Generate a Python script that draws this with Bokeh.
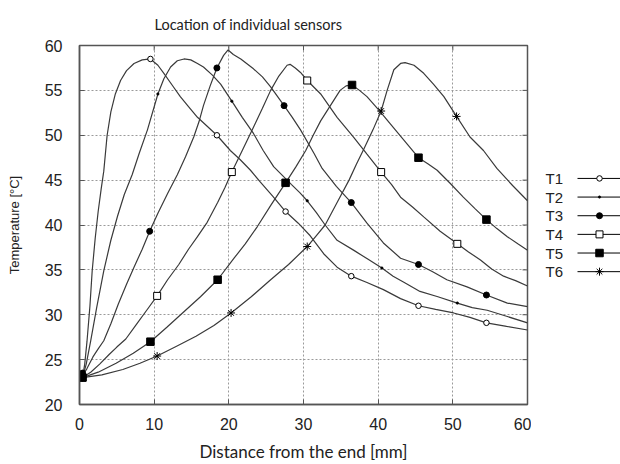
import numpy as np
from bokeh.plotting import figure
from bokeh.models import Range1d, FixedTicker
from bokeh.layouts import row
from bokeh.core.properties import value
from bokeh.embed import file_html
from bokeh.resources import INLINE

# ---------------- data ----------------
series_names = ["T1", "T2", "T3", "T4", "T5", "T6"]

t1_x = [0.4, 0.7, 1.0, 1.4, 1.7, 2.1, 2.5, 2.9, 3.25, 3.7, 4.2, 4.8, 5.5, 6.3, 7.3, 8.4, 9.5, 10.5, 11.3,
        12.4, 13.5, 14.6, 15.8, 17.1, 18.4, 20.2, 21.5, 22.9, 24.2, 25.9, 27.6, 29.3, 30.9, 32.7, 34.5, 36.4,
        38.5, 40.7, 43.0, 45.4, 47.7, 50.1, 52.3, 54.5, 57.2, 60.0]
t1_y = [23.0, 24.5, 27.0, 31.0, 34.9, 38.5, 41.5, 44.0, 46.0, 50.0, 52.6, 54.6, 56.1, 57.2, 58.0, 58.4, 58.5,
        57.8, 56.9, 55.6, 54.3, 53.2, 52.0, 51.0, 50.0, 48.3, 47.3, 46.1, 44.8, 43.2, 41.5, 40.2, 38.8, 36.8,
        35.3, 34.3, 33.6, 32.8, 31.8, 31.0, 30.6, 30.2, 29.7, 29.1, 28.7, 28.3]

t2_x = [0.4, 0.9, 1.5, 2.3, 3.25, 4.2, 5.1, 6.0, 7.05, 8.0, 9.1, 10.5, 11.3, 12.2, 13.1, 14.0, 14.9, 15.8,
        16.6, 17.8, 18.9, 20.4, 21.8, 23.3, 24.6, 26.0, 27.2, 28.4, 29.5, 30.5, 31.7, 32.9, 34.5, 36.7, 38.6,
        40.5, 42.0, 43.5, 45.6, 48.0, 50.6, 52.6, 54.6, 57.3, 60.0]
t2_y = [23.0, 24.5, 27.1, 30.8, 34.9, 38.3, 41.0, 43.4, 45.6, 48.0, 50.6, 54.6, 56.3, 57.6, 58.3, 58.5, 58.4,
        58.0, 57.6, 56.7, 55.7, 53.8, 52.0, 50.2, 48.3, 46.5, 45.5, 44.5, 43.6, 42.7, 41.4, 40.0, 38.3, 37.2,
        36.2, 35.2, 34.3, 33.6, 32.6, 32.0, 31.3, 30.8, 30.5, 29.8, 29.1]

t3_x = [0.4, 1.0, 1.8, 2.5, 3.25, 4.2, 5.2, 6.3, 7.3, 8.4, 9.4, 10.5, 11.8, 13.1, 14.2, 15.3, 16.0, 16.6,
        17.5, 18.4, 19.3, 19.9, 20.6, 21.6, 23.3, 24.5, 25.6, 27.4, 28.5, 29.6, 31.4, 32.5, 34.4, 36.4, 38.5,
        40.7, 43.0, 45.4, 47.3, 49.2, 51.9, 54.5, 57.3, 60.0]
t3_y = [23.2, 24.0, 25.3, 26.2, 27.1, 29.0, 31.2, 33.4, 35.3, 37.3, 39.3, 41.3, 43.5, 45.6, 47.6, 49.8, 51.5,
        53.3, 55.5, 57.5, 58.9, 59.5, 59.0, 58.5, 57.4, 56.5, 55.4, 53.3, 52.0, 50.6, 48.0, 46.3, 44.3, 42.5,
        40.2, 38.0, 36.3, 35.6, 34.8, 33.9, 33.1, 32.2, 31.3, 30.9]

t4_x = [0.4, 1.5, 2.7, 4.0, 5.0, 6.2, 7.6, 9.0, 10.4, 11.8, 13.3, 14.6, 15.8, 17.1, 18.5, 19.5, 20.4, 21.8,
        23.3, 24.5, 25.6, 26.7, 27.8, 28.2, 28.9, 29.6, 30.5, 32.3, 34.5, 36.7, 38.5, 40.4, 41.8, 43.0, 44.6,
        46.1, 48.3, 50.6, 52.1, 53.7, 55.2, 56.8, 58.4, 60.0]
t4_y = [23.0, 23.6, 24.5, 25.6, 26.4, 27.3, 28.9, 30.5, 32.1, 33.9, 35.6, 37.3, 38.7, 40.3, 42.5, 44.2, 45.9,
        48.3, 50.9, 53.0, 55.0, 56.6, 57.8, 57.9, 57.5, 57.0, 56.1, 54.6, 52.0, 49.8, 47.9, 45.9, 44.5, 43.1,
        42.0, 40.9, 39.3, 37.9, 37.0, 36.1, 35.1, 34.3, 33.8, 33.2]

t5_x = [0.4, 2.5, 4.9, 7.2, 9.5, 11.7, 13.8, 16.2, 18.5, 20.7, 22.2, 23.8, 25.7, 27.6, 29.0, 30.3, 31.3, 32.3,
        33.6, 34.9, 35.7, 36.5, 37.5, 38.5, 40.1, 41.6, 43.5, 45.4, 46.7, 47.9, 49.7, 51.4, 53.0, 54.5, 55.9,
        57.3, 58.7, 60.0]
t5_y = [23.0, 23.6, 24.6, 25.7, 27.0, 28.6, 30.2, 32.0, 33.9, 36.3, 37.9, 39.8, 42.3, 44.7, 46.5, 48.3, 50.0,
        51.6, 53.3, 55.0, 55.5, 55.6, 55.0, 54.3, 52.8, 51.3, 49.4, 47.5, 46.8, 46.1, 44.6, 43.1, 41.8, 40.6,
        39.6, 38.7, 37.9, 37.2]

t6_x = [0.4, 3.0, 5.8, 8.1, 10.4, 13.0, 15.6, 18.0, 20.3, 23.0, 25.6, 28.0, 30.5, 31.7, 32.9, 34.5, 36.1, 37.1,
        38.1, 39.3, 40.4, 41.2, 42.1, 43.0, 43.6, 44.8, 46.1, 47.4, 48.8, 50.5, 52.3, 54.1, 55.9, 58.0, 60.0]
t6_y = [23.0, 23.3, 23.9, 24.6, 25.4, 26.5, 27.6, 28.8, 30.2, 32.0, 33.9, 35.6, 37.6, 38.8, 40.0, 42.5, 45.0,
        46.8, 48.5, 50.6, 52.7, 55.0, 57.3, 58.0, 58.1, 57.8, 56.9, 55.7, 54.3, 52.1, 49.8, 48.3, 46.3, 44.4,
        42.7]

# marker positions on each curve
t1_mx = [0.4, 9.5, 18.4, 27.6, 36.4, 45.4, 54.5]
t1_my = [23.3, 58.5, 50.0, 41.5, 34.3, 31.0, 29.1]
t2_mx = [0.5, 10.5, 20.4, 30.5, 40.5, 50.6]
t2_my = [23.0, 54.6, 53.8, 42.7, 35.2, 31.3]
t3_mx = [0.4, 9.4, 18.4, 27.4, 36.4, 45.4, 54.5]
t3_my = [23.5, 39.3, 57.5, 53.3, 42.5, 35.6, 32.2]
t4_mx = [0.4, 10.4, 20.4, 30.5, 40.4, 50.6]
t4_my = [23.0, 32.1, 45.9, 56.1, 45.9, 37.9]
t5_mx = [0.4, 9.5, 18.5, 27.6, 36.5, 45.4, 54.5]
t5_my = [23.0, 27.0, 33.9, 44.7, 55.6, 47.5, 40.6]
t6_mx = [0.4, 10.4, 20.3, 30.5, 40.4, 50.5]
t6_my = [23.0, 25.4, 30.2, 37.6, 52.7, 52.1]

x_ticks = [0, 10, 20, 30, 40, 50, 60]
y_ticks = [20, 25, 30, 35, 40, 45, 50, 55, 60]

title_text = "Location of individual sensors"
x_label = "Distance from the end [mm]"
y_label = "Temperature [\u00b0C]"

# ---------------- styles ----------------
curves = [(t1_x, t1_y), (t2_x, t2_y), (t3_x, t3_y), (t4_x, t4_y), (t5_x, t5_y), (t6_x, t6_y)]
markers = [(t1_mx, t1_my), (t2_mx, t2_my), (t3_mx, t3_my), (t4_mx, t4_my), (t5_mx, t5_my), (t6_mx, t6_my)]
mstyle = [
    dict(marker="circle", size=5.5, fill_color="white", line_color="black", line_width=1),
    dict(marker="circle", size=2.5, fill_color="black", line_color="black", line_width=0.5),
    dict(marker="circle", size=6, fill_color="black", line_color="black", line_width=1),
    dict(marker="square", size=7, fill_color="white", line_color="black", line_width=1),
    dict(marker="square", size=7.5, fill_color="black", line_color="black", line_width=1),
    dict(marker="asterisk", size=8, fill_color=None, line_color="black", line_width=1),
]
curve_color = "#3a3a3a"
frame_color = "#555555"

H = 464
p = figure(width=531, height=H, x_range=Range1d(0, 60), y_range=Range1d(20, 60),
           output_backend="svg", toolbar_location=None,
           min_border_left=79, min_border_right=4, min_border_top=45, min_border_bottom=59)
p.background_fill_color = "white"
p.border_fill_color = "white"
p.outline_line_color = frame_color
p.outline_line_width = 1.5

p.title.text = title_text
p.title.align = "left"
p.title.offset = 75
p.title.standoff = 25
p.title.text_font = "Lato"
p.title.text_font_size = "14.5px"
p.title.text_font_style = "normal"
p.title.text_color = "#222222"

for ax, ticks in ((p.xaxis[0], x_ticks), (p.yaxis[0], y_ticks)):
    ax.ticker = FixedTicker(ticks=ticks)
    ax.major_tick_in = 5
    ax.major_tick_out = 0
    ax.minor_tick_line_color = None
    ax.major_tick_line_color = frame_color
    ax.axis_line_color = frame_color
    ax.axis_line_width = 1.5
    ax.major_label_text_font = "Liberation Sans"
    ax.major_label_text_font_size = "16px"
    ax.major_label_text_color = "#222222"
    ax.axis_label_text_font_style = "normal"
    ax.axis_label_text_color = "#222222"

p.xaxis[0].axis_label = x_label
p.xaxis[0].axis_label_text_font = "Lato"
p.xaxis[0].axis_label_text_font_size = "17px"
p.xaxis[0].major_label_standoff = 13
p.xaxis[0].axis_label_standoff = 8

p.yaxis[0].axis_label = y_label
p.yaxis[0].axis_label_text_font = "Liberation Sans"
p.yaxis[0].axis_label_text_font_size = "13px"
p.yaxis[0].major_label_standoff = 17
p.yaxis[0].axis_label_standoff = 20

# inward ticks mirrored on the right and top edges
p.ray(x=[x_ticks[-1]] * (len(y_ticks) - 2), y=y_ticks[1:-1], length=5, length_units="screen",
      angle=np.pi, line_color=frame_color, line_width=1)
p.ray(x=x_ticks[1:-1], y=[y_ticks[-1]] * (len(x_ticks) - 2), length=5, length_units="screen",
      angle=-np.pi / 2, line_color=frame_color, line_width=1)

p.xgrid.ticker = FixedTicker(ticks=x_ticks[1:-1])
p.ygrid.ticker = FixedTicker(ticks=y_ticks[1:-1])
for g in (p.xgrid[0], p.ygrid[0]):
    g.grid_line_color = "#9a9a9a"
    g.grid_line_dash = "2 2"
    g.grid_line_width = 1

for (cx, cy) in curves:
    p.line(cx, cy, line_color=curve_color, line_width=1.2)
for (mx, my), st in zip(markers, mstyle):
    p.scatter(mx, my, **st)

# ---------------- legend panel (labels left, glyphs right) ----------------
leg_w = 89
leg = figure(width=leg_w, height=H, x_range=Range1d(0, leg_w), y_range=Range1d(360, 0),
             output_backend="svg", toolbar_location=None,
             min_border_left=0, min_border_right=0, min_border_top=45, min_border_bottom=59)
leg.axis.visible = False
leg.grid.visible = False
leg.outline_line_color = None
leg.background_fill_color = "white"
leg.border_fill_color = "white"

row0, row_step = 133.3, 18.7
rows_y = [row0 + row_step * i for i in range(len(series_names))]
leg.text(x=[14] * len(series_names), y=rows_y, text=series_names,
         text_font=value("Liberation Sans"), text_font_size="15px",
         text_baseline="middle", text_align="left", text_color="#222222")
leg.segment(x0=[46] * len(rows_y), y0=rows_y, x1=[leg_w] * len(rows_y), y1=rows_y,
            line_color="black", line_width=1)
for yy, st in zip(rows_y, mstyle):
    leg.scatter([68], [yy], **st)

layout = row(p, leg)
open("out.html", "w").write(file_html(layout, INLINE))
